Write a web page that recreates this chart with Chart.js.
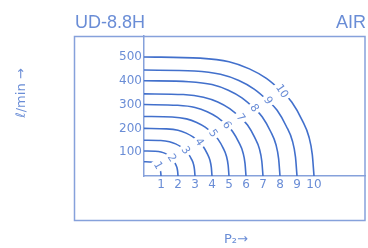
<!DOCTYPE html>
<html><head><meta charset="utf-8">
<script src="https://cdn.jsdelivr.net/npm/chart.js@4.4.0/dist/chart.umd.min.js"></script>
<style>html,body{margin:0;padding:0;background:#fff;}canvas{display:block;}</style>
</head><body>
<canvas id="c" width="368" height="248"></canvas>
<script>
// Curve names (pressure lines 1..10)
const curveNames = ['1','2','3','4','5','6','7','8','9','10'];
// x = P2, y = l/min
const p1  = [0, 0.33, 0.5, 0.62, 0.72, 0.81, 0.87, 0.93, 0.97, 0.99, 1];
const q1  = [60, 59, 58, 54, 49, 43, 37, 28, 20, 11, 0];
const p2  = [0, 0.66, 1, 1.24, 1.44, 1.62, 1.74, 1.86, 1.94, 1.98, 2];
const q2  = [105, 104, 101, 95, 86, 75, 65, 49, 35, 19, 0];
const p3  = [0, 0.99, 1.5, 1.86, 2.16, 2.43, 2.61, 2.79, 2.91, 2.97, 3];
const q3  = [150, 149, 144, 135, 123, 107, 93, 71, 50, 27, 0];
const p4  = [0, 1.32, 2, 2.48, 2.88, 3.24, 3.48, 3.72, 3.88, 3.96, 4];
const q4  = [200, 198, 192, 180, 164, 142, 124, 94, 66, 36, 0];
const p5  = [0, 1.65, 2.5, 3.1, 3.6, 4.05, 4.35, 4.65, 4.85, 4.95, 5];
const q5  = [250, 248, 240, 225, 205, 178, 155, 118, 83, 45, 0];
const p6  = [0, 1.98, 3, 3.72, 4.32, 4.86, 5.22, 5.58, 5.82, 5.94, 6];
const q6  = [300, 297, 288, 270, 246, 213, 186, 141, 99, 54, 0];
const p7  = [0, 2.31, 3.5, 4.34, 5.04, 5.67, 6.09, 6.51, 6.79, 6.93, 7];
const q7  = [345, 342, 331, 311, 283, 245, 214, 162, 114, 62, 0];
const p8  = [0, 2.64, 4, 4.96, 5.76, 6.48, 6.96, 7.44, 7.76, 7.92, 8];
const q8  = [400, 396, 384, 360, 328, 284, 248, 188, 132, 72, 0];
const p9  = [0, 2.97, 4.5, 5.58, 6.48, 7.29, 7.83, 8.37, 8.73, 8.91, 9];
const q9  = [445, 441, 427, 401, 365, 316, 276, 209, 147, 80, 0];
const p10 = [0, 3.3, 5, 6.2, 7.2, 8.1, 8.7, 9.3, 9.7, 9.9, 10];
const q10 = [500, 495, 480, 450, 410, 355, 310, 235, 165, 90, 0];
const xTicks = [1,2,3,4,5,6,7,8,9,10];
const yTicks = [100,200,300,400,500];
const labelIndex = 5;

const px = [p1,p2,p3,p4,p5,p6,p7,p8,p9,p10];
const qy = [q1,q2,q3,q4,q5,q6,q7,q8,q9,q10];

const lineColor = '#4270cc';
const textColor = '#6a8dd6';
const boxColor  = '#86a1db';

const datasets = curveNames.map((n,i)=>({
  label: n,
  data: px[i].map((x,j)=>({x, y: qy[i][j]})),
  showLine: true,
  pointRadius: 0,
  borderColor: lineColor,
  borderWidth: 1.6,
  cubicInterpolationMode: 'monotone',
  fill: false
}));

const deco = {
  id: 'deco',
  beforeDraw(chart){
    const ctx = chart.ctx;
    ctx.save(); ctx.fillStyle = '#fff'; ctx.fillRect(0,0,chart.width,chart.height); ctx.restore();
  },
  afterDatasetsDraw(chart){
    const {ctx, scales:{x, y}} = chart;
    curveNames.forEach((name,i)=>{
      const k = labelIndex;
      const cx = x.getPixelForValue(px[i][k]), cy = y.getPixelForValue(qy[i][k]);
      const ax = x.getPixelForValue(px[i][k-1]), ay = y.getPixelForValue(qy[i][k-1]);
      const bx = x.getPixelForValue(px[i][k+1]), by = y.getPixelForValue(qy[i][k+1]);
      const ang = Math.atan2(by-ay, bx-ax) + 0.22;
      ctx.save();
      ctx.translate(cx, cy); ctx.rotate(ang);
      ctx.font = '11px "DejaVu Sans"';
      const w = ctx.measureText(name).width;
      ctx.fillStyle = '#fff';
      ctx.fillRect(-w/2-2.5, -4, w+5, 8);
      ctx.fillStyle = textColor;
      ctx.textAlign = 'center'; ctx.textBaseline = 'middle';
      ctx.fillText(name, 0, 0);
      ctx.restore();
    });
  },
  afterDraw(chart){
    const ctx = chart.ctx;
    ctx.save();
    ctx.strokeStyle = boxColor; ctx.lineWidth = 1.5;
    ctx.strokeRect(74.5, 36.5, 290.5, 184);
    ctx.fillStyle = textColor;
    ctx.font = '18px "Liberation Sans"';
    ctx.textBaseline = 'middle';
    ctx.textAlign = 'left'; ctx.fillText('UD-8.8H', 75, 23);
    ctx.textAlign = 'right'; ctx.fillText('AIR', 366, 23);
    ctx.font = '13px "DejaVu Sans"';
    ctx.textAlign = 'center';
    ctx.fillText('P₂→', 236, 240);
    ctx.translate(22, 93); ctx.rotate(-Math.PI/2);
    ctx.fillText('ℓ/min →', 0, 0);
    ctx.restore();
  }
};

new Chart(document.getElementById('c'), {
  type: 'scatter',
  data: { datasets },
  options: {
    responsive: false,
    devicePixelRatio: 1,
    animation: false,
    layout: { padding: { top: 36, right: 3, left: 0, bottom: 0 } },
    plugins: { legend: {display:false}, tooltip: {enabled:false} },
    scales: {
      x: {
        type: 'linear', min: 0, max: 13,
        grid: { display: false, drawTicks: false },
        border: { color: boxColor, width: 1.5 },
        ticks: { color: textColor, font: { family: 'DejaVu Sans', size: 12 }, padding: 2 },
        afterBuildTicks(s){ s.ticks = xTicks.map(v=>({value:v})); },
        afterFit(s){ s.height = 72; }
      },
      y: {
        type: 'linear', min: 0, max: 588,
        grid: { display: false, drawTicks: false },
        border: { color: boxColor, width: 1.5 },
        ticks: { color: textColor, font: { family: 'DejaVu Sans', size: 12 }, padding: 2 },
        afterBuildTicks(s){ s.ticks = yTicks.map(v=>({value:v})); },
        afterFit(s){ s.width = 144; }
      }
    }
  },
  plugins: [deco]
});
</script>
</body></html>
